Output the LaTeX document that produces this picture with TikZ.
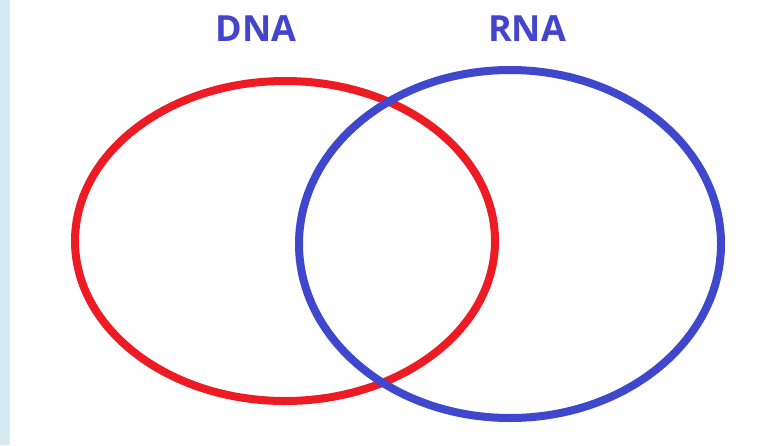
\documentclass[tikz,border=0pt]{standalone}
\usepackage{fontspec}
\setmainfont{Open Sans}
\definecolor{dnared}{HTML}{ED1C24}
\definecolor{rnablue}{HTML}{3F48CC}
\definecolor{labelblue}{HTML}{4444CC}
\definecolor{strip}{HTML}{D4EBF2}
\begin{document}
\begin{tikzpicture}[x=1pt,y=-1pt,
  ring/.style={line width=8pt},
  lbl/.style={text=labelblue,font=\fontsize{36}{36}\selectfont\bfseries,inner sep=0pt}]
\useasboundingbox (0,0) rectangle (762,445);
\fill[white] (0,0) rectangle (762,445);
\fill[strip] (0,0) rectangle (10,445);
\draw[ring,dnared] (285,241) ellipse [x radius=210, y radius=160];
\draw[ring,rnablue] (510,244) ellipse [x radius=211, y radius=174];
\node[lbl] (dna) at (256,29) {DNA};
\node[lbl] (rna) at (527,29) {RNA};
\end{tikzpicture}
\end{document}
